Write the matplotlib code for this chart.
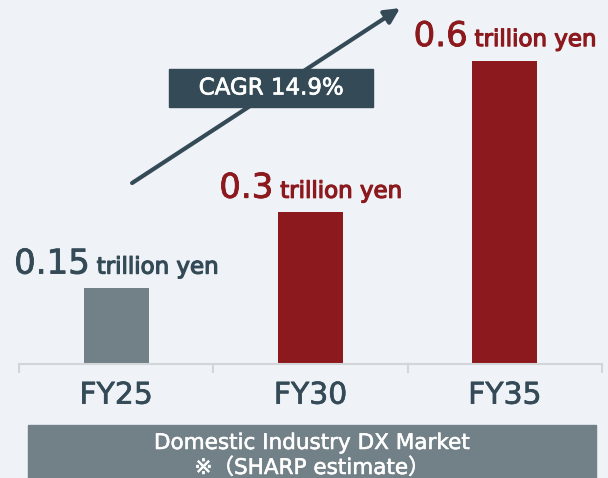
import matplotlib
matplotlib.use("Agg")
import matplotlib.pyplot as plt
import matplotlib.patheffects as pe
from matplotlib.patches import Rectangle

# Data
years = ["FY25", "FY30", "FY35"]
market = [0.15, 0.3, 0.6]  # trillion yen
value_labels = ["0.15", "0.3", "0.6"]
unit = "trillion yen"
cagr_text = "CAGR 14.9%"
caption = "Domestic Industry DX Market\n※（SHARP estimate）"

# Colours
bg = "#eff3f7"
slate = "#344a56"
grey = "#728087"
red = "#8c191d"
bar_colors = [grey, red, red]
label_colors = [slate, red, red]

plt.rcParams["font.family"] = ["DejaVu Sans", "Noto Sans CJK JP"]


def thick(color, lw=0.6):
    # slightly heavier strokes than DejaVu regular
    return [pe.withStroke(linewidth=lw, foreground=color)]


W, H = 608, 478
fig = plt.figure(figsize=(W / 100, H / 100), dpi=100, facecolor=bg)
ax = fig.add_axes([19 / W, 1 - 364 / H, (602 - 19) / W, 364 / H])
ax.set_facecolor(bg)

x = range(len(years))
ax.bar(x, market, width=0.335, color=bar_colors, zorder=2)
ax.set_xlim(-0.5, 2.5)
ax.set_ylim(0, 0.72)

for s in ["top", "right", "left"]:
    ax.spines[s].set_visible(False)
ax.spines["bottom"].set_color("#d2d6d9")
ax.spines["bottom"].set_linewidth(1.5)
ax.set_yticks([])
ax.set_xticks(list(x))
ax.set_xticklabels(years, fontsize=21.5, color=slate)
for lbl in ax.get_xticklabels():
    lbl.set_path_effects(thick(slate, 0.5))
ax.tick_params(axis="x", which="major", length=0, pad=12)
ax.set_xticks([-0.5, 0.5, 1.5, 2.5], minor=True)
ax.tick_params(axis="x", which="minor", length=6.5, width=1.5, color="#d2d6d9", direction="out")

# value labels: big number + smaller unit, centred above bar
fig.canvas.draw()
renderer = fig.canvas.get_renderer()
gap = 7  # px
for i, (v, lab, c) in enumerate(zip(market, value_labels, label_colors)):
    t1 = ax.annotate(lab, xy=(i, v), xytext=(0, 10.5), textcoords="offset points",
                     ha="left", va="baseline", fontsize=24.5, color=c,
                     path_effects=thick(c, 0.6))
    t2 = ax.annotate(unit, xy=(i, v), xytext=(0, 10.5), textcoords="offset points",
                     ha="left", va="baseline", fontsize=16.5, color=c,
                     path_effects=thick(c, 0.9))
    w1 = t1.get_window_extent(renderer).width
    w2 = t2.get_window_extent(renderer).width
    start = -(w1 + gap + w2) / 2
    t1.set_position((start * 72 / 100, 10.5))
    t2.set_position(((start + w1 + gap) * 72 / 100, 10.5))

# CAGR arrow and box
ax.annotate("", xy=(1.461, 0.704), xytext=(0.082, 0.358),
            arrowprops=dict(arrowstyle="-|>,head_length=0.9,head_width=0.45",
                            color=slate, lw=3, shrinkA=0, shrinkB=0),
            annotation_clip=False, zorder=3)
ax.add_patch(Rectangle((0.272, 0.508), 1.05, 0.075, color=slate, clip_on=False, zorder=4))
ax.text(0.797, 0.546, cagr_text, ha="center", va="center", fontsize=16.5,
        color="white", zorder=5, path_effects=thick("white", 0.5))

# caption box
fig.patches.append(Rectangle((28 / W, 0), (596 - 28) / W, 1 - 425 / H,
                             transform=fig.transFigure, color=grey, zorder=0))
lines = caption.split("\n")
fig.text(312 / W, 1 - 449 / H, lines[0], ha="center", va="baseline",
         fontsize=15.5, color="white", path_effects=thick("white", 0.4))
fig.text(312 / W, 1 - 474 / H, lines[1], ha="center", va="baseline",
         fontsize=15.5, color="white", path_effects=thick("white", 0.4))

fig.savefig("out.png", dpi=100, facecolor=bg)
